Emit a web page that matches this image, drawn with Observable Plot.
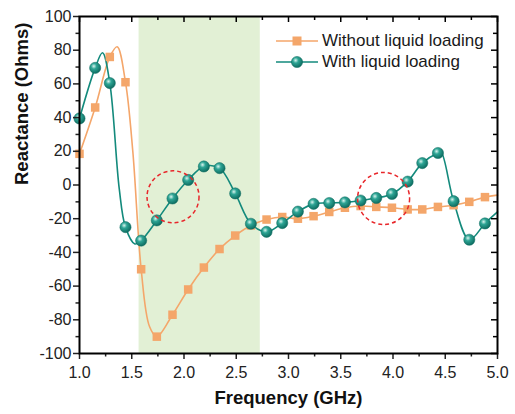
<!DOCTYPE html>
<html>
<head>
<meta charset="utf-8">
<script src="https://cdn.jsdelivr.net/npm/d3@7"></script>
<script src="https://cdn.jsdelivr.net/npm/@observablehq/plot@0.6"></script>
<style>
  body { margin: 0; background: #fff; }
  #wrap { position: relative; width: 515px; height: 414px; font-family: "Liberation Sans", Arial, sans-serif; }
  #legend { position: absolute; left: 276px; top: 30px; font-size: 17px; color: #1a1a1a; }
  #legend .row { display: flex; align-items: center; height: 21px; white-space: nowrap; }
  #legend svg { margin-right: 4px; }
</style>
</head>
<body>
<div id="wrap"></div>
<script>
// Marker frequencies (GHz)
const freq = [1.00, 1.15, 1.29, 1.44, 1.59, 1.74, 1.89, 2.04, 2.19, 2.34, 2.49, 2.64, 2.79, 2.94, 3.09, 3.24, 3.39, 3.54, 3.69, 3.84, 3.99, 4.14, 4.28, 4.43, 4.58, 4.73, 4.88];
// Reactance (Ohms) at markers
const withoutVals = [18.5, 46, 76, 61, -50, -90, -77, -62, -49, -38, -30, -24, -20.5, -19, -20, -18.5, -16, -13.5, -12.5, -13, -13.5, -14.5, -14.5, -13, -12, -10, -7.2];
const withVals = [39.5, 69.5, 60.5, -25, -33, -21, -8, 3, 11, 10, -5, -23, -27.8, -22.6, -15.8, -11.2, -10.7, -10.3, -9.2, -7.7, -5.3, 2, 13, 19, -9.6, -32.5, -22.8];
// Smooth curve points (markers plus extrema)
const withoutLineFreq = [1.00, 1.15, 1.29, 1.36, 1.44, 1.51, 1.59, 1.67, 1.74, 1.89, 2.04, 2.19, 2.34, 2.49, 2.64, 2.79, 2.94, 3.09, 3.24, 3.39, 3.54, 3.69, 3.84, 3.99, 4.14, 4.28, 4.43, 4.58, 4.73, 4.88, 5.00];
const withoutLineVals = [18.5, 46, 76, 82, 61, 20, -50, -84, -90, -77, -62, -49, -38, -30, -24, -20.5, -19, -20, -18.5, -16, -13.5, -12.5, -13, -13.5, -14.5, -14.5, -13, -12, -10, -7.2, -6];
const withLineFreq = [1.00, 1.15, 1.22, 1.29, 1.38, 1.44, 1.53, 1.59, 1.74, 1.89, 2.04, 2.19, 2.34, 2.49, 2.64, 2.79, 2.94, 3.09, 3.24, 3.39, 3.54, 3.69, 3.84, 3.99, 4.14, 4.28, 4.43, 4.46, 4.58, 4.73, 4.88, 5.00];
const withLineVals = [39.5, 69.5, 78.5, 60.5, -2, -25, -35, -33, -21, -8, 3, 11, 10, -5, -23, -27.8, -22.6, -15.8, -11.2, -10.7, -10.3, -9.2, -7.7, -5.3, 2, 13, 19, 19.5, -9.6, -32.5, -22.8, -16];
// Shaded band (GHz)
const bandStart = [1.57];
const bandEnd = [2.73];
// Highlighted regions (dashed circles)
const circleFreq = [1.895, 3.91];
const circleVals = [-7, -8];
// Ticks
const xMajor = [1.0, 1.5, 2.0, 2.5, 3.0, 3.5, 4.0, 4.5, 5.0];
const xMinor = [1.25, 1.75, 2.25, 2.75, 3.25, 3.75, 4.25, 4.75];
const yMajor = [-100, -80, -60, -40, -20, 0, 20, 40, 60, 80, 100];
const yMinor = [-90, -70, -50, -30, -10, 10, 30, 50, 70, 90];
const seriesNames = ["Without liquid loading", "With liquid loading"];

const orange = "#f4a66a";
const teal = "#138a7c";

const band = bandStart.map((s, i) => ({x1: s, x2: bandEnd[i]}));
const withoutPts = freq.map((f, i) => ({f, v: withoutVals[i]}));
const withPts = freq.map((f, i) => ({f, v: withVals[i]}));
const withoutLine = withoutLineFreq.map((f, i) => ({f, v: withoutLineVals[i]}));
const withLine = withLineFreq.map((f, i) => ({f, v: withLineVals[i]}));
const circles = circleFreq.map((f, i) => ({f, v: circleVals[i]}));

const W = 515, H = 414, mL = 79, mR = 18, mT = 16, mB = 61;
const innerW = W - mL - mR, innerH = H - mT - mB;

const svg = Plot.plot({
  width: W, height: H,
  marginLeft: mL, marginRight: mR, marginTop: mT, marginBottom: mB,
  style: {fontFamily: "'Liberation Sans', Arial, sans-serif", fontSize: "16px", color: "#222", background: "#fff"},
  x: {domain: [1, 5]},
  y: {domain: [-100, 100]},
  marks: [
    Plot.rect(band, {x1: "x1", x2: "x2", fill: "#e2f0d5"}),
    Plot.line(withoutLine, {x: "f", y: "v", stroke: orange, strokeWidth: 1.6, curve: "catmull-rom"}),
    Plot.line(withLine, {x: "f", y: "v", stroke: teal, strokeWidth: 1.6, curve: "catmull-rom"}),
    Plot.dot(withoutPts, {x: "f", y: "v", symbol: "square", r: 4.8, fill: orange, stroke: "none"}),
    Plot.dot(withPts, {x: "f", y: "v", r: 5.6, fill: "url(#ball)", stroke: "#0b6a5f", strokeWidth: 0.5}),
    Plot.dot(circles, {x: "f", y: "v", r: 26, fill: "none", stroke: "#e8262a", strokeWidth: 1.5, strokeDasharray: "4,3"}),
    // bottom axis (outward)
    Plot.axisX({ticks: xMajor, tickSize: 6, tickPadding: 7, tickFormat: d3.format(".1f"), label: null, strokeWidth: 1.5}),
    Plot.axisX({ticks: xMinor, tickSize: 3.5, tickFormat: () => "", label: null, strokeWidth: 1.5}),
    // left axis (outward)
    Plot.axisY({ticks: yMajor, tickSize: 6, tickPadding: 2, tickFormat: d => String(d), label: null, strokeWidth: 1.5}),
    Plot.axisY({ticks: yMinor, tickSize: 3.5, tickFormat: () => "", label: null, strokeWidth: 1.5}),
    // top inward ticks
    Plot.tickX(xMajor, {x: d => d, insetBottom: innerH - 6, stroke: "#000", strokeWidth: 1.5}),
    Plot.tickX(xMinor, {x: d => d, insetBottom: innerH - 4, stroke: "#000", strokeWidth: 1.5}),
    // right inward ticks
    Plot.tickY(yMajor, {y: d => d, insetLeft: innerW - 6, stroke: "#000", strokeWidth: 1.5}),
    Plot.tickY(yMinor, {y: d => d, insetLeft: innerW - 4, stroke: "#000", strokeWidth: 1.5}),
    Plot.frame({stroke: "#000", strokeWidth: 2}),
    Plot.text(["Reactance (Ohms)"], {frameAnchor: "left", dx: -57, rotate: -90, fontWeight: "bold", fontSize: 18.5, fill: "#111"}),
    Plot.text(["Frequency (GHz)"], {frameAnchor: "bottom", dy: 50, fontWeight: "bold", fontSize: 18.5, fill: "#111"})
  ]
});

const s = d3.select(svg);
const g = s.insert("defs", ":first-child").append("radialGradient")
  .attr("id", "ball").attr("cx", "0.38").attr("cy", "0.35").attr("r", "0.7");
g.append("stop").attr("offset", "0").attr("stop-color", "#d9f4ee");
g.append("stop").attr("offset", "0.35").attr("stop-color", "#2ea595");
g.append("stop").attr("offset", "1").attr("stop-color", "#0a665b");

const wrap = document.getElementById("wrap");
wrap.appendChild(svg);

const legend = document.createElement("div");
legend.id = "legend";
legend.innerHTML = `
  <div class="row"><svg width="42" height="14"><line x1="0" x2="42" y1="7" y2="7" stroke="${orange}" stroke-width="1.6"/><rect x="16.5" y="2.5" width="9" height="9" fill="${orange}"/></svg><span>${seriesNames[0]}</span></div>
  <div class="row"><svg width="42" height="14"><line x1="0" x2="42" y1="7" y2="7" stroke="${teal}" stroke-width="1.6"/><circle cx="21" cy="7" r="5.6" fill="url(#ball)" stroke="#0b6a5f" stroke-width="0.5"/></svg><span>${seriesNames[1]}</span></div>`;
wrap.appendChild(legend);
</script>
</body>
</html>
